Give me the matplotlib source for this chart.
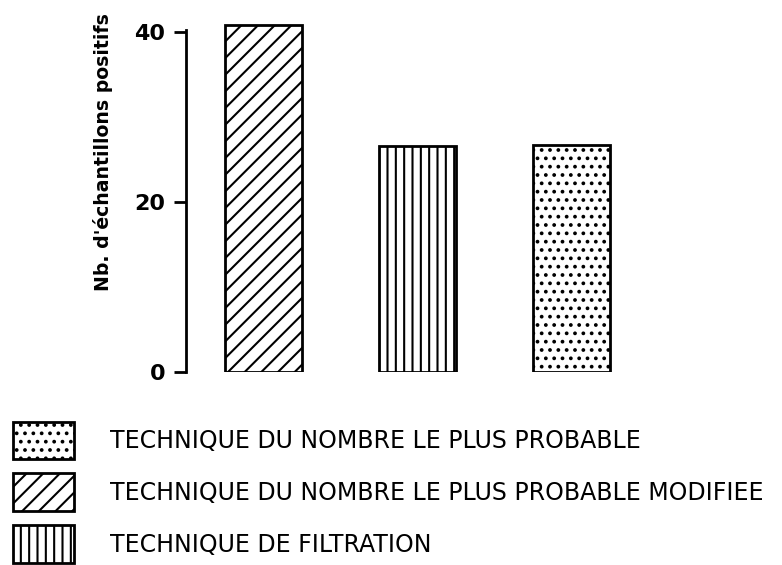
import matplotlib
matplotlib.use('Agg')
import matplotlib.pyplot as plt

# data
techniques = ['TECHNIQUE DU NOMBRE LE PLUS PROBABLE MODIFIEE',
              'TECHNIQUE DE FILTRATION',
              'TECHNIQUE DU NOMBRE LE PLUS PROBABLE']
positifs   = [40.9, 26.6, 26.7]
hatches    = ['//', '||', '..']
legend_order = [2, 0, 1]
yticks     = [0, 20, 40]

plt.rcParams['hatch.linewidth'] = 1.5
plt.rcParams['font.family'] = 'DejaVu Sans'

fig = plt.figure(figsize=(7.82, 5.65), dpi=100)
ax = fig.add_axes([0.238, 0.3416, 0.65, 0.639])

bars = []
for i, (name, val, h) in enumerate(zip(techniques, positifs, hatches)):
    b = ax.bar(i, val, width=0.5, facecolor='white', edgecolor='black',
               linewidth=2, hatch=h, label=name)
    bars.append(b)

ax.set_xlim(-0.5, 2.8)
ax.set_ylim(0, 42.5)
ax.set_yticks(yticks)
ax.set_yticklabels([str(t) for t in yticks], fontsize=16, fontweight='bold')
ax.tick_params(axis='y', length=9, width=2, pad=6)
ax.set_xticks([])
for side in ['top', 'right', 'bottom']:
    ax.spines[side].set_visible(False)
ax.spines['left'].set_linewidth(2)
ax.spines['left'].set_bounds(0, 40.2)

ax.set_ylabel("Nb. d'échantillons positifs", fontsize=13.6, fontweight='bold')
ax.yaxis.set_label_coords(-0.143, 0.609)

# legend in the lower part of the figure
handles = [bars[i] for i in legend_order]
labels = [techniques[i] for i in legend_order]
fig.legend(handles, labels, loc='lower left',
           bbox_to_anchor=(13 / 782, 2 / 565),
           frameon=False, prop={'family': 'DejaVu Sans', 'size': 17},
           handlelength=2.58, handleheight=2.07, labelspacing=0.61,
           handletextpad=1.53, borderpad=0, borderaxespad=0)

fig.savefig('out.png', dpi=100)
